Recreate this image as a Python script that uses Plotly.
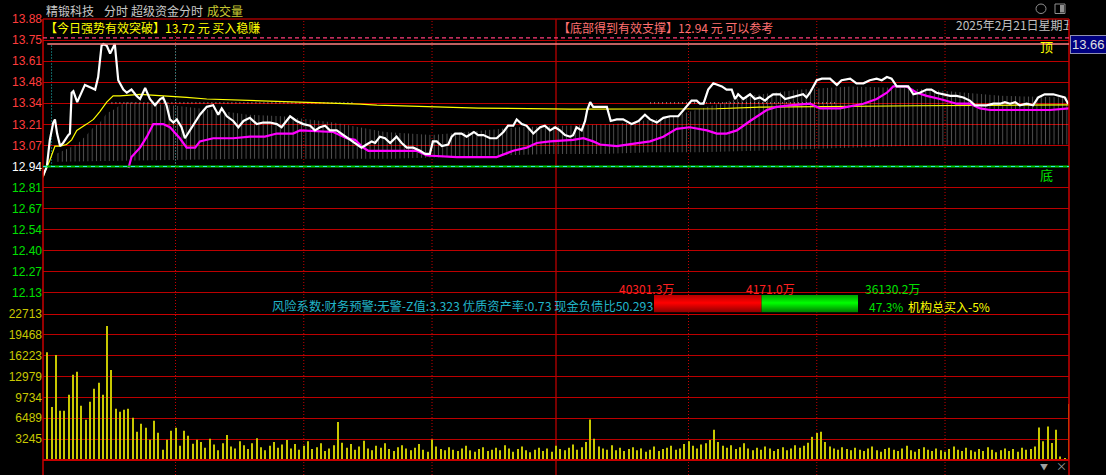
import plotly.graph_objects as go

# ---------------- data ----------------
pre_close = 12.94
pct_step = 0.010375            # one grid step, as a fraction of the previous close
price_labels = ["13.88", "13.75", "13.61", "13.48", "13.34", "13.21", "13.07",
                "12.94", "12.81", "12.67", "12.54", "12.40", "12.27", "12.13"]
pct_labels = ["7.26%", "6.23%", "5.19%", "4.15%", "3.11%", "2.08%", "1.04%",
              "0.00%", "1.04%", "2.08%", "3.11%", "4.15%", "5.19%", "6.23%"]
vol_max = 22713
vol_labels = ["22713", "19468", "16223", "12979", "9734", "6489", "3245"]

# minute index (0 = 9:30, 120 = 11:30/13:00, 240 = 15:00) and last price
price_min = [0, 0.9, 1.6, 2.4, 2.8, 3.3, 4.0, 4.7, 5.9, 6.3,
             6.7, 7.1, 8.0, 9.8, 11.4, 12.2, 12.9, 13.7, 14.1, 14.9,
             15.7, 16.8, 17.6, 18.8, 19.6, 20.7, 21.9, 22.7, 23.9, 25.0,
             26.2, 27.4, 28.1, 28.9, 29.7, 30.5, 31.3, 32.4, 33.2, 34.4,
             35.6, 36.7, 38.3, 39.8, 41.0, 41.8, 43.0, 44.5, 45.7, 46.9,
             48.4, 49.2, 50.0, 51.5, 53.1, 54.7, 55.8, 57.8, 59.3, 60.9,
             62.5, 63.6, 64.8, 66.0, 67.1, 68.7, 70.2, 71.8, 73.4, 74.5,
             75.7, 76.9, 77.7, 78.8, 80.0, 81.2, 82.7, 83.9, 85.1, 86.6,
             88.2, 89.4, 90.5, 91.2, 92.1, 93.3, 94.8, 95.6, 96.4, 97.9,
             99.1, 100.8, 101.8, 103.0, 104.6, 106.1, 107.7, 108.8, 110.0, 110.8,
             112.0, 113.1, 114.7, 116.3, 117.4, 118.6, 119.8, 120.9, 122.1, 123.3,
             124.0, 124.8, 126.0, 126.8, 127.3, 128.0, 128.7, 130.3, 131.9, 132.8,
             134.2, 135.7, 137.7, 139.3, 140.8, 142.0, 143.6, 145.1, 146.7, 148.6,
             150.2, 151.7, 152.9, 153.7, 154.5, 155.6, 156.8, 158.8, 159.9, 161.1,
             161.9, 162.6, 163.8, 165.4, 166.5, 167.7, 168.9, 169.7, 170.8, 172.4,
             173.6, 175.1, 176.7, 177.8, 178.6, 179.4, 181.0, 182.2, 184.1, 185.7,
             186.8, 188.8, 190.3, 191.9, 193.4, 195.0, 196.2, 197.4, 198.5, 199.7,
             201.2, 202.4, 203.6, 205.1, 206.7, 207.8, 209.0, 210.6, 212.2, 213.7,
             215.3, 216.8, 218.0, 219.2, 220.7, 222.3, 223.9, 225.0, 226.2, 227.4,
             228.5, 230.1, 231.6, 232.8, 234.3, 236.3, 237.9, 239.0, 239.8]
price = [12.88, 12.94, 13.11, 13.22, 13.24, 13.15, 13.07, 13.09, 13.14, 13.15,
         13.41, 13.42, 13.35, 13.46, 13.44, 13.43, 13.51, 13.71, 13.72, 13.71,
         13.66, 13.72, 13.49, 13.43, 13.41, 13.43, 13.39, 13.37, 13.44, 13.37,
         13.33, 13.37, 13.38, 13.33, 13.24, 13.22, 13.24, 13.19, 13.12, 13.17,
         13.22, 13.27, 13.32, 13.33, 13.27, 13.31, 13.26, 13.23, 13.19, 13.23,
         13.25, 13.23, 13.21, 13.22, 13.22, 13.21, 13.19, 13.26, 13.23, 13.21,
         13.20, 13.17, 13.19, 13.20, 13.17, 13.17, 13.14, 13.11, 13.08, 13.06,
         13.08, 13.10, 13.09, 13.13, 13.12, 13.09, 13.13, 13.09, 13.06, 13.06,
         13.04, 13.02, 13.02, 13.10, 13.10, 13.07, 13.08, 13.13, 13.15, 13.15,
         13.13, 13.16, 13.14, 13.14, 13.12, 13.12, 13.16, 13.20, 13.20, 13.24,
         13.21, 13.20, 13.15, 13.19, 13.20, 13.17, 13.19, 13.17, 13.14, 13.13,
         13.14, 13.19, 13.17, 13.23, 13.30, 13.35, 13.32, 13.32, 13.32, 13.23,
         13.24, 13.24, 13.21, 13.23, 13.27, 13.24, 13.22, 13.25, 13.26, 13.26,
         13.31, 13.36, 13.36, 13.34, 13.34, 13.43, 13.47, 13.45, 13.43, 13.43,
         13.37, 13.40, 13.37, 13.40, 13.37, 13.38, 13.36, 13.38, 13.40, 13.40,
         13.37, 13.38, 13.39, 13.40, 13.38, 13.41, 13.49, 13.50, 13.50, 13.46,
         13.49, 13.50, 13.47, 13.47, 13.49, 13.50, 13.49, 13.51, 13.50, 13.45,
         13.45, 13.45, 13.40, 13.41, 13.43, 13.43, 13.41, 13.40, 13.39, 13.39,
         13.38, 13.36, 13.33, 13.33, 13.33, 13.34, 13.34, 13.35, 13.34, 13.35,
         13.33, 13.34, 13.33, 13.38, 13.40, 13.40, 13.39, 13.38, 13.34]

avg_min = [0, 0.5, 1.6, 2.8, 4.0, 5.5, 6.7, 7.9, 10.2, 11.8,
           13.3, 14.9, 16.4, 18.0, 22.7, 28.9, 33.6, 38.3, 44.5, 48.4,
           60.1, 68.7, 74.2, 78.1, 85.8, 91.3, 101.8, 123.3, 153.7, 157.6,
           167.7, 181.0, 204.4, 220.0, 240]
avg_price = [12.87, 12.91, 12.98, 13.07, 13.07, 13.08, 13.11, 13.17, 13.21, 13.24,
             13.29, 13.35, 13.39, 13.39, 13.40, 13.39, 13.38, 13.37, 13.365, 13.363,
             13.35, 13.344, 13.338, 13.331, 13.325, 13.318, 13.312, 13.306, 13.306, 13.308,
             13.318, 13.322, 13.327, 13.329, 13.333]

fund_min = [20.0, 20.7, 22.7, 24.3, 25.8, 28.1, 29.7, 32.0, 33.6, 35.6,
            36.7, 39.8, 44.5, 48.4, 51.9, 53.1, 54.7, 58.5, 60.1, 67.9,
            71.0, 73.0, 74.9, 76.1, 79.6, 84.3, 87.4, 89.8, 96.8, 106.1,
            110.0, 113.1, 115.5, 118.6, 124.0, 126.4, 128.7, 130.3, 134.2, 142.0,
            145.1, 148.2, 151.3, 155.3, 157.6, 159.9, 162.3, 165.4, 169.3, 171.6,
            174.7, 179.4, 181.8, 186.4, 191.9, 195.0, 197.4, 198.9, 202.0, 204.4,
            206.7, 209.8, 213.7, 216.8, 219.2, 221.5, 227.8, 235.6, 240]
fund_line = [12.93, 13.00, 13.06, 13.13, 13.21, 13.21, 13.19, 13.12, 13.06, 13.06,
             13.10, 13.12, 13.12, 13.13, 13.13, 13.14, 13.15, 13.15, 13.17, 13.16,
             13.12, 13.11, 13.06, 13.04, 13.04, 13.04, 13.04, 13.01, 13.00, 13.00,
             13.04, 13.06, 13.09, 13.10, 13.11, 13.12, 13.10, 13.08, 13.07, 13.10,
             13.13, 13.18, 13.19, 13.17, 13.15, 13.15, 13.17, 13.23, 13.30, 13.32,
             13.33, 13.34, 13.31, 13.31, 13.34, 13.37, 13.41, 13.45, 13.45, 13.41,
             13.39, 13.37, 13.34, 13.34, 13.31, 13.30, 13.30, 13.30, 13.31]

band_top_min = [3, 5.5, 7.9, 10.2, 11.8, 13.3, 14.9, 16.4, 18, 19.6,
                30, 40, 48, 56, 68, 80, 91, 99, 111, 122,
                134, 146, 154, 165, 177, 189, 201, 212, 224, 236, 240]
band_top = [13.02, 13.05, 13.08, 13.14, 13.19, 13.22, 13.28, 13.30, 13.33, 13.35,
            13.33, 13.30, 13.27, 13.26, 13.22, 13.16, 13.14, 13.16, 13.19, 13.20,
            13.21, 13.25, 13.31, 13.39, 13.43, 13.45, 13.44, 13.42, 13.39, 13.38, 13.38]
band_bot_min = [3, 48, 82, 95, 106, 118, 131, 142, 154, 177, 201, 224, 240]
band_bot = [12.97, 12.99, 12.99, 13.00, 13.01, 13.02, 13.02, 13.03, 13.03,
            13.05, 13.07, 13.08, 13.08]
# white dotted row lying on the 13.34 grid line (two stretches)
dot_row_min = [16, 72.5, None, 142, 186]
dot_row = [13.345, 13.345, None, 13.345, 13.345]

# volume for minutes 1..240
volume = [16760, 8230, 16350, 7660, 7660, 10140, 13250, 13710, 8430, 6260,
          9050, 11070, 12000, 10140, 20850, 14020, 7970, 7500, 7810, 7970,
          6570, 4400, 5640, 5020, 3160, 6110, 4240, 1600, 3160, 4550,
          5020, 2230, 4550, 3780, 2540, 3160, 2800, 1900, 3300, 2400,
          1500, 2600, 3900, 2100, 1800, 2900, 2300, 1700, 2600, 3400,
          2000, 1500, 2200, 2800, 1900, 2400, 3100, 1800, 2500, 1600,
          2200, 2900, 1700, 2000, 2600, 1400, 1800, 2300, 5900, 2700,
          1900, 2500, 1600, 2100, 3000, 1800, 1500, 2200, 1900, 2600,
          1700, 1400, 2000, 2300, 1800, 1500, 1900, 2500, 1600, 1300,
          3200, 2100, 1700, 1500, 2000, 1600, 1400, 1800, 2200, 1500,
          1300, 1700, 2000, 1400, 1600, 1900, 1500, 2300, 1800, 1300,
          1700, 2100, 1500, 1200, 1600, 1900, 1400, 1800, 1300, 2200,
          1700, 1500, 1900, 2400, 1600, 2000, 2800, 6300, 3300, 2100,
          1800, 1600, 2300, 1500, 1900, 1400, 1700, 2000, 1500, 1800,
          1300, 1600, 2100, 1400, 1700, 1900, 2200, 1600, 1800, 2500,
          2900, 2200, 1800, 2400, 2600, 3100, 4700, 2800, 2200, 1900,
          2300, 1700, 2000, 2600, 1800, 1500, 1900, 1600, 2100, 1800,
          1400, 1700, 2000, 1500, 1800, 2300, 1900, 2200, 2700, 3600,
          4200, 4400, 2800, 2100, 1800, 1600, 2000, 1700, 1500, 1900,
          1600, 1400, 1800, 2100, 1500, 1300, 1700, 1900, 1600, 1400,
          1800, 2200, 1500, 1300, 1700, 2000, 1600, 1400, 1800, 1500,
          1300, 1700, 2100, 1600, 1400, 1900, 1500, 1300, 1700, 1400,
          2000, 1600, 1200, 1500, 1800, 1400, 1700, 1300, 1900, 1600,
          1700, 2100, 5070, 2900, 5230, 2640, 4710, 560, 300, 8700]
vol_min = list(range(1, len(volume) + 1))

resist_price = 13.72     # 今日强势有效突破
support_price = 12.94    # 底部得到有效支撑
dash_price = 13.76
flow_in = 40301.3
flow_out = 36130.2

# ---------------- layout helpers ----------------
W, H = 1106, 475
L, R, T, B = 43, 1069, 19, 475
SEP, VBASE = 314, 460


def fx(px):
    return (px - L) / (R - L)


def fy(py):
    return (B - py) / (B - T)


RED, WHITE, GREEN, YEL = "#ff3c3c", "#ffffff", "#00e000", "#c8c800"
GRID = "#bc0000"
NUM_FONT = "Liberation Sans"
CJK = "Noto Sans CJK SC"

steps = list(range(7, -7, -1))
tickvals = [pre_close * (1 + k * pct_step) for k in steps]
y_lo = pre_close * (1 - 7 * pct_step)
y_hi = pre_close * (1 + 7 * pct_step)


def lab_color(k):
    return RED if k > 0 else (WHITE if k == 0 else GREEN)


price_text = [f'<span style="color:{lab_color(k)}">{t}</span>' for k, t in zip(steps, price_labels)]
pct_text = [f'<span style="color:{lab_color(k)}">{t}</span>' for k, t in zip(steps, pct_labels)]
vol_ticks = [vol_max * k / 7 for k in range(7, 0, -1)]
vol_lo = -vol_max * (B - VBASE) / (VBASE - SEP)

fig = go.Figure()

# dotted band
fig.add_trace(go.Scatter(x=band_bot_min, y=band_bot, mode="lines",
                         line=dict(width=0), hoverinfo="skip"))
fig.add_trace(go.Scatter(x=band_top_min, y=band_top, mode="lines", line=dict(width=0),
                         fill="tonexty", fillcolor="rgba(0,0,0,0)",
                         fillpattern=dict(shape="|", fgcolor="#a8a8a8", bgcolor="rgba(0,0,0,0)",
                                          size=4.275, solidity=0.22),
                         hoverinfo="skip"))
fig.add_trace(go.Scatter(x=dot_row_min, y=dot_row, mode="lines", connectgaps=False,
                         line=dict(color="#d0d0d0", width=1, dash="1px,3px"), hoverinfo="skip"))
# average price
fig.add_trace(go.Scatter(x=avg_min, y=avg_price, mode="lines",
                         line=dict(color="#ffff00", width=1.2)))
# fund line
fig.add_trace(go.Scatter(x=fund_min, y=fund_line, mode="lines",
                         line=dict(color="#ff00ff", width=2.2)))
# price
fig.add_trace(go.Scatter(x=price_min, y=price, mode="lines",
                         line=dict(color="#ffffff", width=2.2)))
# volume
fig.add_trace(go.Bar(x=vol_min, y=volume, width=0.24, yaxis="y2",
                     marker=dict(color=YEL, line=dict(width=0))))
# date, clipped by the plot area like the original
date_x = (956 - L) / (R - L) * 240
date_y = y_hi - (27 - T) / (SEP - T) * (y_hi - y_lo)
fig.add_trace(go.Scatter(x=[date_x], y=[date_y], mode="text", text=["2025年2月21日星期五"],
                         textposition="middle right", cliponaxis=True,
                         textfont=dict(family=CJK, size=12, color="#c0c0c0")))
# fund flow gauge
total = flow_in + flow_out
fig.add_trace(go.Scatter(x=[0, flow_in, flow_in, 0, 0], y=[0, 0, 1, 1, 0], mode="lines",
                         xaxis="x2", yaxis="y5", line=dict(width=0), fill="toself",
                         fillgradient=dict(type="vertical",
                                           colorscale=[[0, "#8c0000"], [0.55, "#ff0000"], [1, "#b40000"]])))
fig.add_trace(go.Scatter(x=[flow_in, total, total, flow_in, flow_in], y=[0, 0, 1, 1, 0], mode="lines",
                         xaxis="x2", yaxis="y5", line=dict(width=0), fill="toself",
                         fillgradient=dict(type="vertical",
                                           colorscale=[[0, "#007800"], [0.55, "#00ff00"], [1, "#00a000"]])))

shapes = []
for m in [31, 61, 91, 151, 181, 211]:
    shapes.append(dict(type="line", xref="x", yref="paper", x0=m, x1=m, y0=0, y1=1,
                       line=dict(color="#c80000", width=1, dash="1px,2px"), layer="below"))
shapes.append(dict(type="line", xref="x", yref="paper", x0=120, x1=120, y0=0, y1=1,
                   line=dict(color="#c80000", width=1.2), layer="below"))
for m in [2, 31]:
    shapes.append(dict(type="line", xref="x", yref="y", x0=m, x1=m, y0=support_price, y1=resist_price,
                       line=dict(color="#20c8c8", width=1, dash="1px,2px"), layer="below"))
# frame
shapes.append(dict(type="line", xref="paper", yref="paper", x0=0, x1=0, y0=0, y1=1,
                   line=dict(color="#c80000", width=1.5)))
shapes.append(dict(type="line", xref="paper", yref="paper", x0=1, x1=1, y0=0, y1=1,
                   line=dict(color="#c80000", width=1.5)))
shapes.append(dict(type="line", xref="paper", yref="paper", x0=0, x1=1, y0=1, y1=1,
                   line=dict(color="#a00000", width=1.5)))
# level lines
shapes.append(dict(type="line", xref="x", yref="y", x0=0, x1=240, y0=dash_price, y1=dash_price,
                   line=dict(color="#ff3c78", width=1.2, dash="4px,3px")))
shapes.append(dict(type="line", xref="x", yref="y", x0=1, x1=240, y0=resist_price, y1=resist_price,
                   line=dict(color="#ff8080", width=1.5)))
shapes.append(dict(type="line", xref="x", yref="y", x0=0, x1=240, y0=support_price, y1=support_price,
                   line=dict(color="#00c800", width=2)))
shapes.append(dict(type="line", xref="x", yref="y", x0=0, x1=240, y0=support_price, y1=support_price,
                   line=dict(color="#30e8e8", width=1, dash="4px,4px")))
# panel separators
for v in [0, vol_max]:
    shapes.append(dict(type="line", xref="x", yref="y2", x0=0, x1=240, y0=v, y1=v,
                       line=dict(color="#c80000", width=2)))
# toolbar icons
shapes.append(dict(type="circle", xref="paper", yref="paper", x0=fx(1036), x1=fx(1046),
                   y0=fy(13.5), y1=fy(4), line=dict(color="#909090", width=1)))
shapes.append(dict(type="rect", xref="paper", yref="paper", x0=fx(1055), x1=fx(1065),
                   y0=fy(13.5), y1=fy(4), line=dict(color="#909090", width=1)))
shapes.append(dict(type="rect", xref="paper", yref="paper", x0=fx(1060), x1=fx(1064),
                   y0=fy(12.5), y1=fy(5), fillcolor="#909090", line=dict(width=0)))


def ann(text, px, py, color, size=12, xanchor="left", family=CJK, **kw):
    return dict(text=text, x=fx(px), y=fy(py), xref="paper", yref="paper",
                xanchor=xanchor, yanchor="middle", showarrow=False,
                font=dict(family=family, size=size, color=color), **kw)


annotations = [
    ann("精锻科技", 44, 10, "#c8c8c8"),
    ann("分时", 102, 10, "#c8c8c8"),
    ann("超级资金分时", 129, 10, "#c8c8c8"),
    ann("成交量", 205, 10, "#c8c832"),
    ann("【今日强势有效突破】13.72 元 买入稳赚", 43, 27, "#ffff00"),
    ann("【底部得到有效支撑】12.94 元 可以参考", 556, 27, "#ff7070"),
    ann("顶", 1046, 46, "#ffff00", size=13, xanchor="center"),
    ann("底", 1046, 175, "#00e000", size=13, xanchor="center"),
    ann("40301.3万", 676, 288, "#ff2020", xanchor="right"),
    ann("4171.0万", 770, 288, "#ff2020", xanchor="center"),
    ann("36130.2万", 863, 288, "#00e000"),
    ann("风险系数:财务预警:无警-Z值:3.323 优质资产率:0.73 现金负债比50.293", 270, 306, "#20b4c8",
        size=12.3),
    ann("47.3%", 867, 306, "#00e000"),
    ann("机构总买入-5%", 906, 306, "#ffff00"),
    ann("▼", 1044, 466, "#a0a0a0", size=8, xanchor="center"),
    ann("×", 1061, 466, "#a0a0a0", size=11, xanchor="center"),
    ann("13.66", 1070, 45, "#e0e0e0", size=13, family=NUM_FONT,
        bgcolor="#000080", bordercolor="#9090b0", borderwidth=1, borderpad=1),
]

axis_common = dict(showline=False, zeroline=False, ticks="", fixedrange=True)
fig.update_layout(
    width=W, height=H,
    margin=dict(l=L, r=W - R, t=T, b=0, pad=0),
    paper_bgcolor="#000000", plot_bgcolor="#000000",
    showlegend=False, hovermode=False,
    xaxis=dict(range=[0, 240], showgrid=False, showticklabels=False, **axis_common),
    yaxis=dict(domain=[fy(SEP), 1], range=[y_lo, y_hi], tickvals=tickvals, ticktext=price_text,
               showgrid=True, gridcolor=GRID, gridwidth=1,
               tickfont=dict(family=NUM_FONT, size=12), **axis_common),
    yaxis3=dict(overlaying="y", side="right", anchor="x", range=[y_lo, y_hi], tickvals=tickvals,
                ticktext=pct_text, showgrid=False,
                tickfont=dict(family=NUM_FONT, size=12), **axis_common),
    yaxis2=dict(domain=[0, fy(SEP)], anchor="x", range=[vol_lo, vol_max], tickvals=vol_ticks,
                ticktext=vol_labels, showgrid=True, gridcolor=GRID, gridwidth=1,
                tickfont=dict(family=NUM_FONT, size=12, color=YEL), **axis_common),
    yaxis4=dict(overlaying="y2", side="right", anchor="x", range=[vol_lo, vol_max], tickvals=vol_ticks,
                ticktext=vol_labels, showgrid=False,
                tickfont=dict(family=NUM_FONT, size=12, color=YEL), **axis_common),
    xaxis2=dict(domain=[fx(654), fx(858)], anchor="y5", range=[0, total], visible=False, fixedrange=True),
    yaxis5=dict(domain=[fy(312.5), fy(295)], anchor="x2", range=[0, 1], visible=False, fixedrange=True),
    shapes=shapes,
    annotations=annotations,
)

fig.write_html("out.html", config={"displayModeBar": False},
               post_script="document.body.style.margin='0px';document.body.style.overflow='hidden';")
